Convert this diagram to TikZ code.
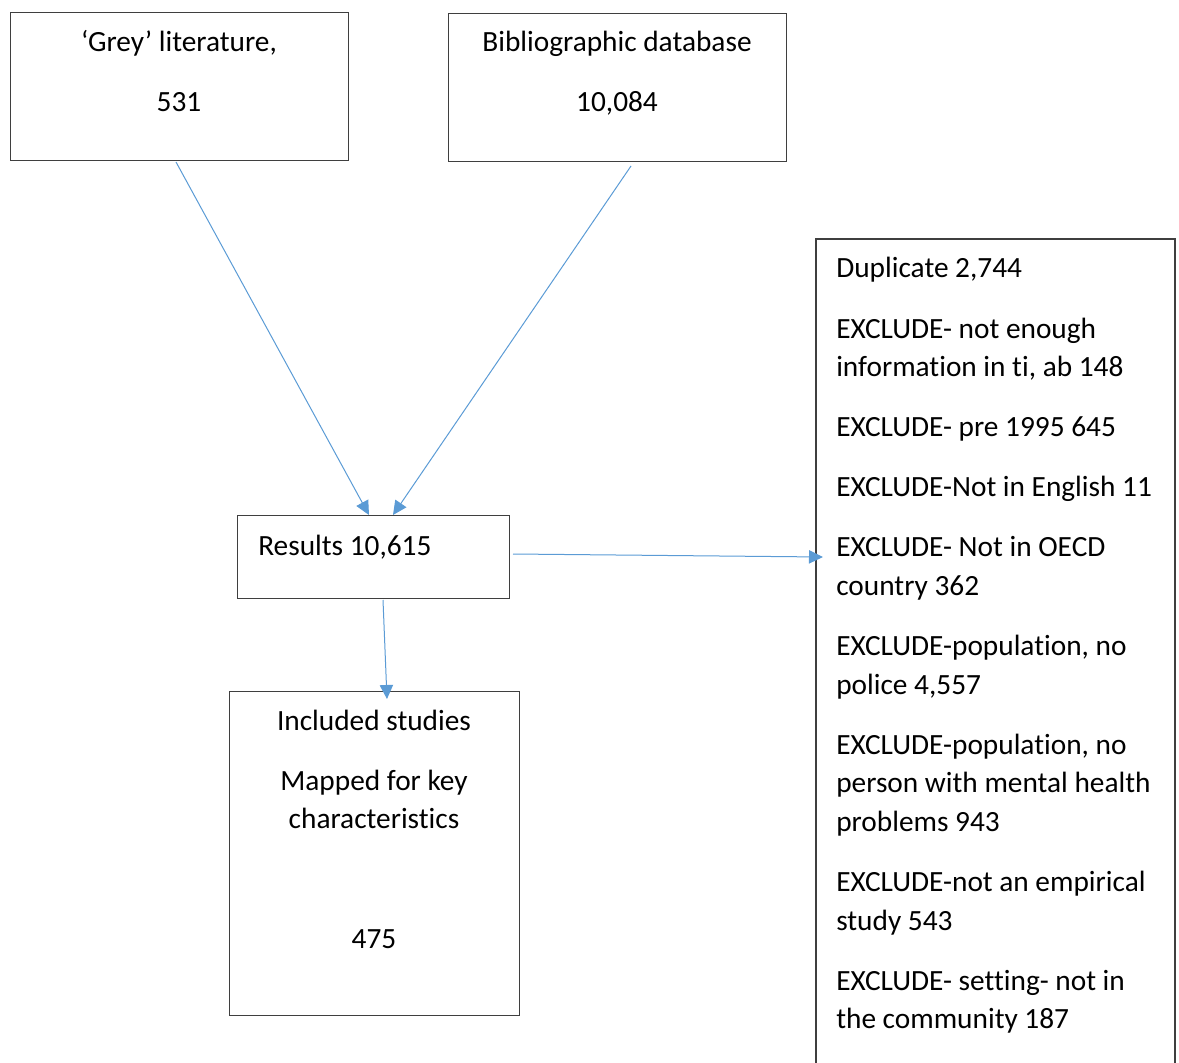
\documentclass[tikz,border=0pt]{standalone}
\usepackage{fontspec}
\setmainfont{Carlito}[Ligatures={NoCommon}]
\usetikzlibrary{arrows.meta}
\definecolor{arrowblue}{HTML}{5B9BD5}
\definecolor{boxline}{HTML}{3F3F3F}
\begin{document}
\begin{tikzpicture}[x=0.75pt,y=-0.75pt,
  boxframe/.style={draw=boxline,line width=1.1pt},
  txt/.style={inner sep=0pt,font=\fontsize{22}{26}\selectfont,anchor=base},
  ltxt/.style={txt,anchor=base west},
  conn/.style={draw=arrowblue,line width=0.75pt,-{Triangle[length=10.5pt,width=10pt]}}]
\useasboundingbox (0,0) rectangle (1179,1063);
% boxes
\node[boxframe,minimum width=338*0.75pt,minimum height=148*0.75pt,inner sep=0pt,anchor=north west] (grey) at (10,12) {};
\node[boxframe,minimum width=338*0.75pt,minimum height=148*0.75pt,inner sep=0pt,anchor=north west] (bib) at (448,13) {};
\node[boxframe,minimum width=272*0.75pt,minimum height=83*0.75pt,inner sep=0pt,anchor=north west] (res) at (237,515) {};
\node[boxframe,minimum width=290*0.75pt,minimum height=324*0.75pt,inner sep=0pt,anchor=north west] (inc) at (229,691) {};
\coordinate (exbl) at (816,1064);
\coordinate (extl) at (816,239);
\coordinate (extr) at (1175,239);
\coordinate (exbr) at (1175,1064);
\draw[boxline,line width=1.1pt] (exbl) -- (extl) -- (extr) -- (exbr);
% texts
\node[txt] (t1) at (179,52) {‘Grey’ literature,};
\node[txt] (t2) at (179,112) {531};
\node[txt] (t3) at (617,52) {Bibliographic database};
\node[txt] (t4) at (617,112) {10,084};
\node[ltxt] (t5) at (258,555) {Results 10,615};
\node[txt] (t6) at (374,730) {Included studies};
\node[txt] (t7) at (374,790) {Mapped for key};
\node[txt] (t8) at (374,828) {characteristics};
\node[txt] (t9) at (374,948) {475};
\node[ltxt] (e1) at (836,277) {Duplicate 2,744};
\node[ltxt] (e2) at (836,338) {EXCLUDE- not enough};
\node[ltxt] (e3) at (836,376) {information in ti, ab 148};
\node[ltxt] (e4) at (836,436) {EXCLUDE- pre 1995 645};
\node[ltxt] (e5) at (836,496) {EXCLUDE-Not in English 11};
\node[ltxt] (e6) at (836,556) {EXCLUDE- Not in OECD};
\node[ltxt] (e7) at (836,595) {country 362};
\node[ltxt] (e8) at (836,655) {EXCLUDE-population, no};
\node[ltxt] (e9) at (836,694) {police 4,557};
\node[ltxt] (e10) at (836,754) {EXCLUDE-population, no};
\node[ltxt] (e11) at (836,792) {person with mental health};
\node[ltxt] (e12) at (836,831) {problems 943};
\node[ltxt] (e13) at (836,891) {EXCLUDE-not an empirical};
\node[ltxt] (e14) at (836,930) {study 543};
\node[ltxt] (e15) at (836,990) {EXCLUDE- setting- not in};
\node[ltxt] (e16) at (836,1028) {the community 187};
% connector endpoints
\coordinate (ga) at (176,162);
\coordinate (gb) at (369,515);
\coordinate (ba) at (631,166);
\coordinate (bb) at (393,515);
\coordinate (ra) at (513,554);
\coordinate (rb) at (823,557);
\coordinate (da) at (383,600);
\coordinate (db) at (387,699);
\draw[conn] (ga) -- (gb);
\draw[conn] (ba) -- (bb);
\draw[conn] (ra) -- (rb);
\draw[conn] (da) -- (db);
\end{tikzpicture}
\end{document}
